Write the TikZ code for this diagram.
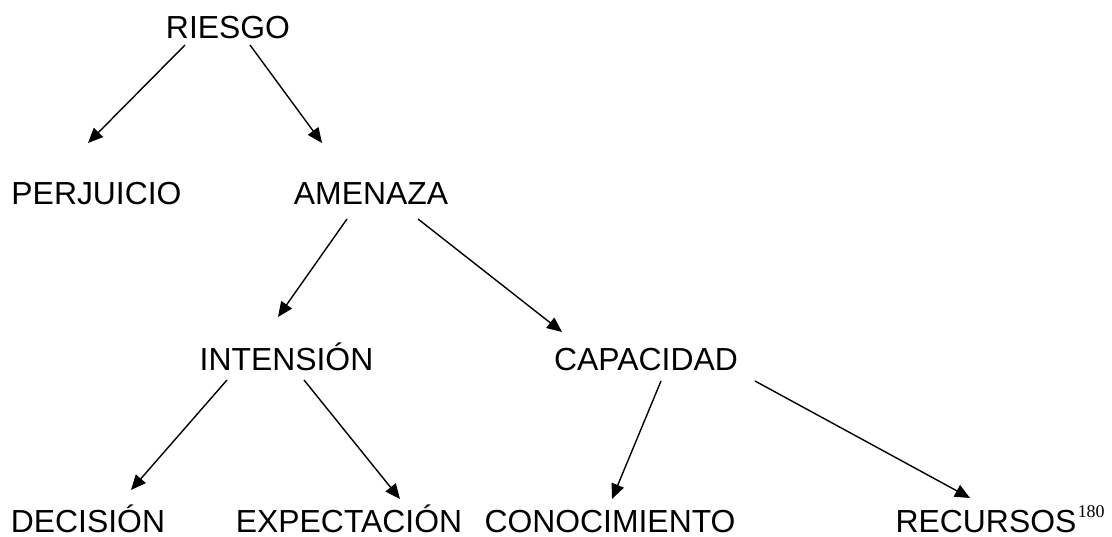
\documentclass[tikz,border=0pt]{standalone}
\usepackage{fontspec}
\setmainfont{Liberation Sans}
\newfontfamily\notafont{Liberation Serif}
\usetikzlibrary{arrows.meta}

\begin{document}
\begin{tikzpicture}[x=1bp,y=-1bp,
						concepto/.style={anchor=base,inner sep=0pt,
						font=\fontsize{32}{32}\selectfont},
						flecha/.style={-{Triangle[length=15bp,width=13bp]},
						line width=1.4bp}]

		\useasboundingbox (0,0) rectangle (1112,537);

		\node[concepto] (riesgo) at (228,39) {RIESGO};
		\node[concepto] (perjuicio) at (96.5,205) {PERJUICIO};
		\node[concepto] (amenaza) at (371,205) {AMENAZA};
		\node[concepto] (intension) at (286.5,371) {INTENSIÓN};
		\node[concepto] (capacidad) at (646,371) {CAPACIDAD};
		\node[concepto] (decision) at (88,532) {DECISIÓN};
		\node[concepto] (expectacion) at (349,532) {EXPECTACIÓN};
		\node[concepto] (conocimiento) at (610,532) {CONOCIMIENTO};
		\node[concepto] (recursos) at (986,532) {RECURSOS};
		\node[anchor=base west,inner sep=0pt,font=\notafont\fontsize{18}{18}\selectfont]
			(nota) at ([shift={(1,-15)}]recursos.base east) {180};

		\draw[flecha] ([shift={(-43,6)}]riesgo.base) -- ([shift={(-8.5,-62)}]perjuicio.base);
		\draw[flecha] ([shift={(22,6)}]riesgo.base) -- ([shift={(-49,-62)}]amenaza.base);
		\draw[flecha] ([shift={(-24,14)}]amenaza.base) -- ([shift={(-8.5,-54)}]intension.base);
		\draw[flecha] ([shift={(47,14)}]amenaza.base) -- ([shift={(-84,-39)}]capacidad.base);
		\draw[flecha] ([shift={(-59.5,9)}]intension.base) -- ([shift={(43,-42)}]decision.base);
		\draw[flecha] ([shift={(17.5,9)}]intension.base) -- ([shift={(51,-33)}]expectacion.base);
		\draw[flecha] ([shift={(15,10)}]capacidad.base) -- ([shift={(2,-33)}]conocimiento.base);
		\draw[flecha] ([shift={(109,10)}]capacidad.base) -- ([shift={(-16,-34)}]recursos.base);

	\end{tikzpicture}
\end{document}
